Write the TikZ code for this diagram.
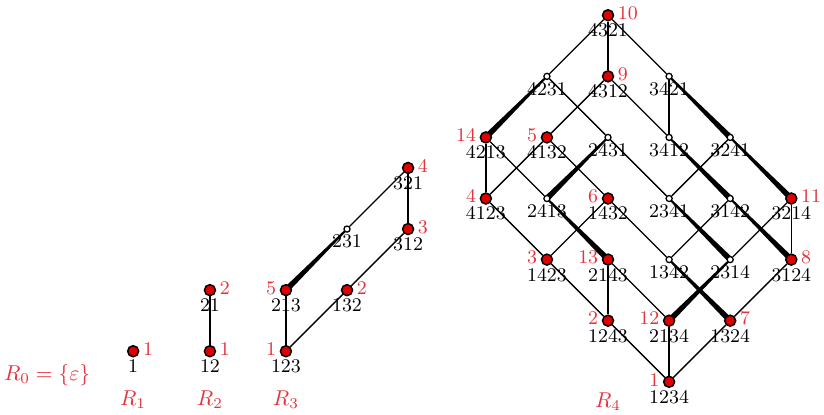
\documentclass[tikz,border=0pt]{standalone}
\usepackage{amsmath,amssymb}
\usepackage{tikz}
\usetikzlibrary{calc,backgrounds}
\definecolor{cR}{HTML}{E00000}
\definecolor{cT}{HTML}{E5323C}
\tikzset{
  rdot/.style={circle,draw=black,fill=cR,line width=0.7pt,inner sep=0pt,minimum size=1.8mm},
  wdot/.style={circle,draw=black,fill=white,line width=0.6pt,inner sep=0pt,minimum size=1mm},
  plbl/.style={inner sep=0.8pt,font=\small},
  nlbl/.style={text=cT,inner sep=1.5pt,font=\small,yshift=1pt},
  rname/.style={text=cT},
  lnk/.style={line width=0.6pt},
}
% tapered thick connector, wide at #1, narrow at #2
\newcommand\thk[2]{\fill ($(#1.center)!0.048cm!90:(#2.center)$)
  -- ($(#2.center)!0.016cm!-90:(#1.center)$) -- ($(#2.center)!0.016cm!90:(#1.center)$)
  -- ($(#1.center)!0.048cm!-90:(#2.center)$) -- cycle;}

\begin{document}
\begin{tikzpicture}
  \useasboundingbox (0,0) rectangle (13.49,6.79);
  \node[rname] (r0) at (0.77,0.655) {$R_0=\{\varepsilon\}$};

  \node[rdot,label={[plbl]below:1},label={[nlbl]0:1}] (s1) at (2.18,1.04) {};
  \node[rname] (r1) at (2.18,0.245) {$R_1$};

  \begin{scope}[shift={(3.437,1.04)}]
    \node[rdot,label={[plbl]below:12},label={[nlbl]0:1}] (t12) at (0,0) {};
    \node[rdot,label={[plbl]below:21},label={[nlbl]0:2}] (t21) at (0,1) {};
    \node[rname] (r2) at (0,-0.795) {$R_2$};
    \begin{scope}[on background layer]
      \draw[lnk] (t12) -- (t21);
    \end{scope}
  \end{scope}

  \begin{scope}[shift={(4.681,1.04)}]
    \foreach \p/\i/\j/\n/\a in {123/0/0/1/180,213/0/1/5/180,132/1/1/2/0,312/2/2/3/0,321/2/3/4/0}
      \node[rdot,label={[plbl]below:\p},label={[nlbl]\a:\n}] (q\p) at (\i,\j) {};
    \node[wdot,label={[plbl]below:231}] (q231) at (1,2) {};
    \node[rname] (r3) at (0,-0.795) {$R_3$};
    \begin{scope}[on background layer]
      \foreach \a/\b in {123/213,123/132,132/312,231/321,312/321}
        \draw[lnk] (q\a) -- (q\b);
      \thk{q213}{q231}
    \end{scope}
  \end{scope}

  \begin{scope}[shift={(7.954,0.54)}]
    \foreach \p/\i/\j/\n/\a in {1234/3/0/1/180,1243/2/1/2/180,2134/3/1/12/180,1324/4/1/7/0,
        1423/1/2/3/180,2143/2/2/13/180,3124/5/2/8/0,4123/0/3/4/180,1432/2/3/6/180,
        3214/5/3/11/0,4213/0/4/14/180,4132/1/4/5/180,4312/2/5/9/0,4321/2/6/10/0}
      \node[rdot,label={[plbl]below:\p},label={[nlbl]\a:\n}] (p\p) at (\i,\j) {};
    \foreach \p/\i/\j in {1342/3/2,2314/4/2,2413/1/3,2341/3/3,3142/4/3,
        2431/2/4,3412/3/4,3241/4/4,4231/1/5,3421/3/5}
      \node[wdot,label={[plbl]below:\p}] (p\p) at (\i,\j) {};
    \node[rname] (r4) at (2,-0.327) {$R_4$};
    \begin{scope}[on background layer]
      \foreach \a/\b in {1234/2134,1234/1324,1234/1243,2134/2143,1324/3124,1243/2143,
          1243/1423,2314/3214,3124/3214,1342/3142,1342/1432,1423/4123,1423/1432,
          2413/4213,2341/3241,2341/2431,1432/4132,4123/4213,4123/4132,2431/4231,
          3412/4312,3412/3421,4132/4312,4231/4321,3421/4321,4312/4321}
        \draw[lnk] (p\a) -- (p\b);
      \foreach \a/\b in {2134/2314,2314/2341,1324/1342,2143/2413,2413/2431,
          3124/3142,3142/3412,3214/3241,3241/3421,4213/4231}
        {\thk{p\a}{p\b}}
    \end{scope}
  \end{scope}
\end{tikzpicture}
\end{document}
